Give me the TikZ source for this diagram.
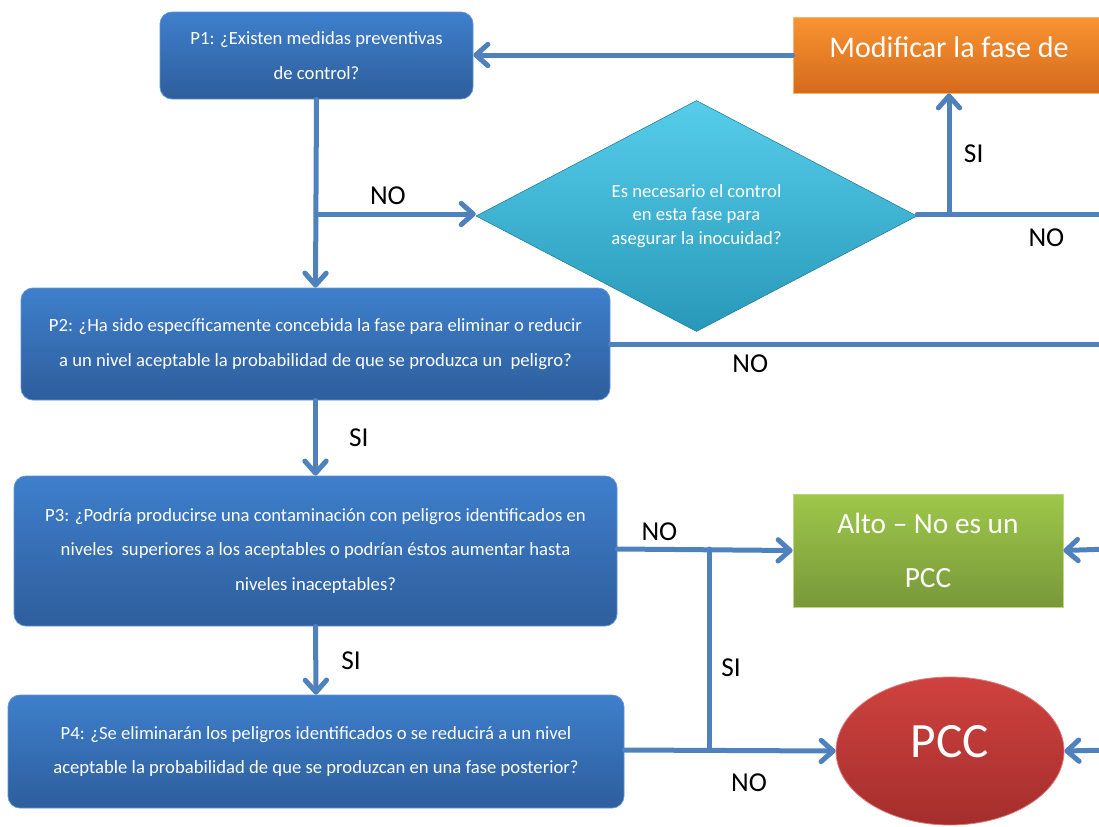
\documentclass[tikz,border=0pt]{standalone}
\usepackage{fontspec}
\setmainfont{Carlito}
\usetikzlibrary{arrows.meta,shapes.geometric}

\definecolor{flowblue}{RGB}{79,129,189}
\definecolor{qtop}{RGB}{62,127,204}
\definecolor{qbot}{RGB}{46,94,156}
\definecolor{qline}{RGB}{96,146,210}
\definecolor{dtop}{RGB}{86,205,236}
\definecolor{dbot}{RGB}{40,152,184}
\definecolor{otop}{RGB}{248,148,50}
\definecolor{obot}{RGB}{214,106,28}
\definecolor{gtop}{RGB}{158,199,74}
\definecolor{gbot}{RGB}{120,152,58}
\definecolor{rtop}{RGB}{207,66,63}
\definecolor{rbot}{RGB}{164,46,44}

\begin{document}
\begin{tikzpicture}[x=0.75pt, y=-0.75pt, >={Straight Barb[length=9pt,width=16pt,round]},
	line cap=round, line join=round,
	flow/.style={draw=flowblue, line width=3.75pt},
	qbox/.style={rounded corners=9pt, draw=qline, line width=0.6pt, top color=qtop, bottom color=qbot,
		text=white, align=center, font=\fontsize{14}{26}\selectfont},
	lbl/.style={font=\fontsize{20.5}{22}\selectfont, text=black}]
	
	\useasboundingbox (0,0) rectangle (1099,826);
	\clip (0,0) rectangle (1099,826);
	
	% questions
	\node[qbox, minimum width=234.75pt, minimum height=65.25pt] (p1) at (316.5,55.5)
	{P1: ¿Existen medidas preventivas\\ de control?};
	\node[qbox, minimum width=441.75pt, minimum height=84pt] (p2) at (315.5,344)
	{P2: ¿Ha sido específicamente concebida la fase para eliminar o reducir\\
		a un nivel aceptable la probabilidad de que se produzca un\ \ peligro?};
	\node[qbox, minimum width=452.25pt, minimum height=112.5pt] (p3) at (315.5,551)
	{P3: ¿Podría producirse una contaminación con peligros identificados en\\
		niveles\ \ superiores a los aceptables o podrían éstos aumentar hasta\\
		niveles inaceptables?};
	\node[qbox, minimum width=462pt, minimum height=84.75pt] (p4) at (316,751.5)
	{P4: ¿Se eliminarán los peligros identificados o se reducirá a un nivel\\
		aceptable la probabilidad de que se produzcan en una fase posterior?};
	
	% control decision
	\node[diamond, shape aspect=1.9, draw=dbot!80!black, line width=0.4pt, top color=dtop, bottom color=dbot,
	minimum width=330.75pt, minimum height=173.25pt, inner sep=0pt, text=white, align=center,
	font=\fontsize{14}{17.5}\selectfont] (dia) at (696.5,216)
	{Es necesario el control\\ en esta fase para\\ asegurar la inocuidad?};
	
	% outcomes
	\node[draw=otop!70!white, line width=0.6pt, top color=otop, bottom color=obot, text=white,
	minimum width=234pt, minimum height=57pt, text height=16pt, text depth=13pt,
	font=\fontsize{22.5}{26}\selectfont] (mod) at (949,55) {Modificar la fase de};
	\node[draw=gtop!70!white, line width=0.6pt, top color=gtop, bottom color=gbot, text=white, align=center,
	minimum width=202.5pt, minimum height=84.75pt,
	font=\fontsize{22}{40}\selectfont] (alto) at (928,550.5) {Alto -- No es un\\ PCC};
	\node[ellipse, draw=rtop!70!white, line width=0.6pt, top color=rtop, bottom color=rbot, text=white,
	minimum width=171pt, minimum height=111pt, text height=30pt, text depth=21pt,
	font=\fontsize{37}{40}\selectfont] (pcc) at (950,751) {PCC};
	
	% junctions and free ends
	\coordinate (j1) at (316,214);
	\coordinate (j2) at (949,214);
	\coordinate (j3) at (709,549);
	\coordinate (j4) at (709,750);
	\coordinate (r1) at (1110,214);
	\coordinate (r2) at (1110,344);
	\coordinate (r3) at (1110,549);
	\coordinate (r4) at (1110,750);
	
	% connectors
	\draw[flow,->] (mod.west) -- (mod.west -| p1.east);
	\draw[flow,->] (p1.south) -- (p2.north);
	\draw[flow,->] (j1) -- (dia.west |- j1) node[lbl, pos=0.45, above, yshift=2pt] {NO};
	\draw[flow] (dia.east |- j1) -- (r1) node[lbl, pos=0.67, below, yshift=-6pt] {NO};
	\draw[flow,->] (j2) -- (mod.south) node[lbl, midway, right, xshift=6pt] {SI};
	\draw[flow] (p2.east) -- (r2) node[lbl, pos=0.28, below, yshift=-3pt] {NO};
	\draw[flow,->] (p2.south) -- (p3.north) node[lbl, midway, right, xshift=20pt] {SI};
	\draw[flow,->] (p3.east |- j3) -- (alto.west) node[lbl, pos=0.24, above, yshift=1pt] {NO};
	\draw[flow,->] (p3.south) -- (p4.north) node[lbl, midway, right, xshift=14pt] {SI};
	\draw[flow,->] (p4.east |- j4) -- (pcc.west) node[lbl, pos=0.59, below, yshift=-12pt] {NO};
	\draw[flow] (j3) -- (j4) node[lbl, pos=0.59, right, xshift=4pt] {SI};
	\draw[flow,->] (r3) -- (alto.east);
	\draw[flow,->] (r4) -- (pcc.east);
	
\end{tikzpicture}
\end{document}
